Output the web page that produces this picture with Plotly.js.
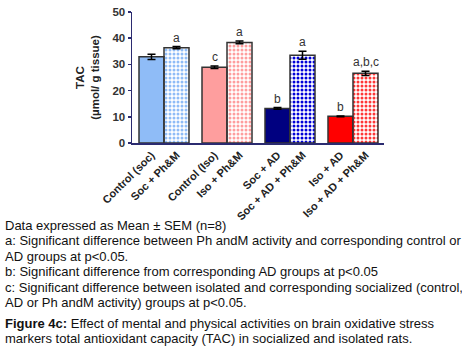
<!DOCTYPE html>
<html><head><meta charset="utf-8">
<script src="https://cdn.plot.ly/plotly-3.0.1.min.js"></script>
<style>html,body{margin:0;padding:0;background:#fff;}#chart{width:462px;height:350px;}</style>
</head><body><div id="chart"></div>
<script>
// ---- data ----
const categories = ["Control (soc)", "Soc + Ph&M", "Control (Iso)", "Iso + Ph&M", "Soc + AD", "Soc + AD + Ph&M", "Iso + AD", "Iso + AD + Ph&M"];
const groupIndex = [0, 0, 1, 1, 2, 2, 3, 3];
const withinIndex = [0, 1, 0, 1, 0, 1, 0, 1];
const tacMean = [32.9, 36.4, 28.9, 38.4, 13.2, 33.5, 10.2, 26.6];
const tacSEM = [1.0, 0.4, 0.5, 0.5, 0.35, 1.5, 0.15, 0.8];
const sigLetters = ["", "a", "c", "a", "b", "a", "b", "a,b,c"];
const barColors = ["#8fbcf7", "#8fbcf7", "#fe9e9e", "#fe9e9e", "#000080", "#0000d8", "#ff0000", "#ff3636"];
const patterned = [false, true, false, true, false, true, false, true];
const yTicks = [0, 10, 20, 30, 40, 50];
const footLines = [
  "Data expressed as Mean ± SEM (n=8)",
  "a: Significant difference between Ph andM activity and corresponding control or",
  "AD groups at p<0.05.",
  "b: Significant difference from corresponding AD groups at p<0.05",
  "c: Significant difference between isolated and corresponding socialized (control,",
  "AD or Ph andM activity) groups at p<0.05."
];
const captionLines = [
  "<b>Figure 4c:</b> Effect of mental and physical activities on brain oxidative stress",
  "markers total antioxidant capacity (TAC) in socialized and isolated rats."
];

// ---- layout helpers ----
const W = 462, H = 350;
const M = {l: 132, r: 78, t: 12, b: 207};
const plotW = W - M.l - M.r, plotH = H - M.t - M.b;
const groupStep = 2.52;
const xs = categories.map((c, i) => groupIndex[i] * groupStep + withinIndex[i]);
const pxX = px => (px - M.l) / plotW;
const pxY = py => (H - M.b - py) / plotH;

const trace = {
  type: 'bar',
  x: xs,
  y: tacMean,
  width: 1,
  marker: {
    color: barColors,
    line: {color: '#333333', width: 1.5},
    pattern: {
      shape: patterned.map(p => p ? '.' : ''),
      fgcolor: '#ffffff',
      bgcolor: barColors,
      size: 4,
      solidity: 0.45,
      fillmode: 'replace'
    }
  },
  error_y: {type: 'data', array: tacSEM, visible: true, color: '#000000', thickness: 1.5, width: 4},
  hoverinfo: 'skip'
};

const annotations = [];
categories.forEach((c, i) => {
  if (!sigLetters[i]) return;
  annotations.push({
    x: xs[i], y: tacMean[i] + tacSEM[i], xref: 'x', yref: 'y',
    text: sigLetters[i], showarrow: false, yanchor: 'bottom', yshift: 0,
    font: {family: 'Liberation Sans, Arial, sans-serif', size: 12, color: '#333333'}
  });
});
const textFont = {family: 'Liberation Sans, Arial, sans-serif', size: 13, color: '#111111'};
const footY = [225, 240.7, 256.5, 271.7, 287, 302.7];
footLines.forEach((t, i) => {
  annotations.push({
    x: pxX(3), y: pxY(footY[i]), xref: 'paper', yref: 'paper', xanchor: 'left', yanchor: 'middle',
    text: t, showarrow: false, align: 'left', font: textFont
  });
});
const capY = [323.3, 338.3];
captionLines.forEach((t, i) => {
  annotations.push({
    x: pxX(3), y: pxY(capY[i]), xref: 'paper', yref: 'paper', xanchor: 'left', yanchor: 'middle',
    text: t, showarrow: false, align: 'left', font: textFont
  });
});

const layout = {
  width: W, height: H,
  margin: M,
  paper_bgcolor: '#ffffff', plot_bgcolor: '#ffffff',
  showlegend: false,
  font: {family: 'Liberation Sans, Arial, sans-serif', color: '#222222'},
  xaxis: {
    range: [-0.78, 9.3],
    tickmode: 'array', tickvals: xs, ticktext: categories,
    tickangle: -45, ticks: '',
    tickfont: {size: 11, weight: 'bold', color: '#222222'},
    showline: true, linecolor: '#2b2b70', linewidth: 1.5,
    showgrid: false, zeroline: false, fixedrange: true
  },
  yaxis: {
    range: [0, 50],
    tickmode: 'array', tickvals: yTicks,
    ticks: 'outside', ticklen: 3, tickcolor: '#2b2b70', tickwidth: 1.5,
    tickfont: {size: 11.5, weight: 'bold', color: '#333333'},
    showline: true, linecolor: '#2b2b70', linewidth: 1.5,
    showgrid: false, zeroline: false, fixedrange: true,
    title: {text: 'TAC<br>(µmol/ g tissue)', font: {size: 11.5, weight: 'bold', color: '#222222'}, standoff: 10}
  },
  annotations: annotations
};

Plotly.newPlot('chart', [trace], layout, {displayModeBar: false, staticPlot: true});
</script>
</body></html>
